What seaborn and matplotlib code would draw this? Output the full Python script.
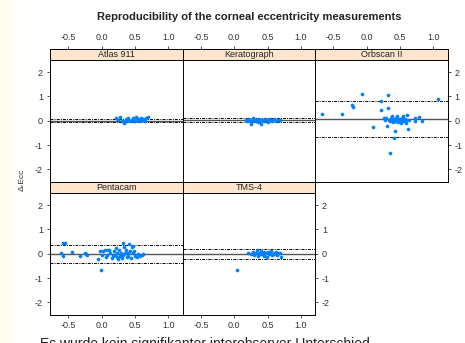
import numpy as np
import pandas as pd
import seaborn as sns
import matplotlib
matplotlib.use("Agg")
import matplotlib.pyplot as plt
from matplotlib.patches import Rectangle

sns.set_style("ticks")
plt.rcParams["font.family"] = ["Liberation Sans", "DejaVu Sans"]

# ---- data ----
devices = ["Atlas 911", "Keratograph", "Orbscan II", "Pentacam", "TMS-4"]

atlas_x = [0.22, 0.25, 0.27, 0.30, 0.32, 0.34, 0.36, 0.38, 0.40, 0.42, 0.45, 0.47,
           0.48, 0.50, 0.52, 0.54, 0.55, 0.57, 0.59, 0.60, 0.62, 0.65, 0.67, 0.70]
atlas_y = [0.11, 0.04, 0.15, 0.01, -0.03, -0.10, 0.07, 0.01, 0.11, -0.01, 0.04, 0.10,
           0.01, -0.03, 0.14, 0.04, 0.07, 0.01, 0.10, 0.04, 0.07, 0.01, 0.11, 0.15]

kerato_x = [0.17, 0.19, 0.21, 0.23, 0.25, 0.27, 0.28, 0.30, 0.32, 0.33, 0.35, 0.37, 0.39,
            0.40, 0.42, 0.44, 0.46, 0.48, 0.50, 0.52, 0.55, 0.57, 0.60, 0.62, 0.65, 0.68]
kerato_y = [0.03, -0.03, 0.06, 0.0, -0.12, 0.04, 0.12, -0.02, 0.06, 0.01, -0.05, 0.08, 0.02,
            -0.14, 0.05, -0.01, 0.07, 0.02, -0.04, 0.09, 0.03, 0.0, 0.06, -0.02, 0.05, 0.02]

orb_x = [-0.675, -0.375, -0.215, -0.205, -0.065, 0.10, 0.21, 0.21, 0.32, 0.32, 0.31, 0.26,
         0.275, 0.295, 0.335, 0.345, 0.36, 0.375, 0.385, 0.395, 0.41, 0.425, 0.425, 0.41,
         0.345, 0.435, 0.445, 0.46, 0.475, 0.485, 0.495, 0.51, 0.525, 0.535, 0.545, 0.56,
         0.575, 0.585, 0.595, 0.61, 0.615, 0.635, 0.725, 0.725, 0.785, 0.835, 1.075]
orb_y = [0.28, 0.28, 0.66, 0.56, 1.12, -0.26, 0.80, 0.45, 1.07, 0.52, -0.23, 0.11,
         0.04, 0.11, 0.04, -0.03, 0.11, 0.01, 0.18, -0.07, 0.07, -0.03, -0.41, -0.72,
         -1.34, 0.11, 0.01, 0.18, -0.07, 0.07, 0.0, -0.10, 0.11, 0.01, 0.18, -0.03,
         0.07, -0.10, 0.04, 0.25, -0.34, 0.04, 0.11, 0.0, 0.15, 0.0, 0.91]

penta_x = [-0.61, -0.575, -0.575, -0.55, -0.45, -0.325, -0.25, -0.235, -0.225, -0.05,
           -0.025, -0.01, 0.0, 0.025, 0.05, 0.065, 0.085, 0.10, 0.115, 0.125, 0.15, 0.165,
           0.185, 0.20, 0.215, 0.225, 0.235, 0.25, 0.265, 0.275, 0.285, 0.30, 0.315, 0.325,
           0.335, 0.35, 0.365, 0.375, 0.39, 0.40, 0.41, 0.425, 0.435, 0.45, 0.465, 0.475,
           0.49, 0.50, 0.525, 0.55, 0.575, 0.60, 0.625]
penta_y = [0.03, -0.08, 0.46, 0.44, 0.08, -0.08, 0.05, 0.0, -0.04, -0.22,
           0.10, -0.68, -0.04, 0.10, 0.16, -0.14, -0.04, 0.14, 0.16, 0.05, -0.18, -0.08,
           0.10, -0.04, 0.23, 0.05, -0.14, -0.22, 0.16, -0.08, 0.03, -0.18, 0.44, -0.04,
           0.27, 0.05, 0.16, -0.14, -0.08, 0.03, 0.41, 0.10, -0.18, 0.27, 0.03, 0.33,
           0.10, -0.08, -0.14, 0.0, -0.08, -0.04, 0.0]

tms_x = [0.04, 0.21, 0.25, 0.28, 0.30, 0.32, 0.34, 0.35, 0.37, 0.38, 0.40, 0.42, 0.44, 0.45,
         0.47, 0.49, 0.50, 0.52, 0.54, 0.55, 0.57, 0.59, 0.60, 0.62, 0.64, 0.66, 0.68, 0.70]
tms_y = [-0.65, 0.04, 0.0, 0.08, -0.06, 0.02, 0.16, -0.10, 0.05, -0.03, 0.10, 0.0, -0.08, 0.06,
         0.02, -0.12, 0.08, -0.02, 0.04, 0.12, -0.06, 0.03, 0.0, 0.09, -0.04, 0.05, 0.02, -0.15]

# mean difference and limits of agreement per device
mean_diff = [0.0, 0.03, 0.07, 0.0, 0.0]
upper_loa = [0.08, 0.12, 0.81, 0.35, 0.19]
lower_loa = [-0.04, -0.05, -0.67, -0.38, -0.20]

xs = [atlas_x, kerato_x, orb_x, penta_x, tms_x]
ys = [atlas_y, kerato_y, orb_y, penta_y, tms_y]
df = pd.concat(
    [pd.DataFrame({"device": d, "mean": x, "diff": y}) for d, x, y in zip(devices, xs, ys)],
    ignore_index=True,
)

# ---- layout (pixel geometry of the lattice) ----
W, H = 465, 343
fig = plt.figure(figsize=(W / 100, H / 100), dpi=100)
fig.patch.set_facecolor("white")
fig.patches.append(Rectangle((0, 0), 13 / W, 1, transform=fig.transFigure,
                             facecolor="#fffdf0", edgecolor="none", zorder=0))

col_left = [50, 182.5, 315]
col_w = 132.5
row_strip = [48.5, 181.5]
strip_h = 11.5
panel_h = 121.5
xlim = (-0.775, 1.21)
ylim = (-2.5, 2.5)
tick_col = "#333333"
blue = "#0080ff"


def px_axes(x, y, w, h):
    return fig.add_axes([x / W, 1 - (y + h) / H, w / W, h / H])


def style_ticks(ax):
    ax.tick_params(direction="out", length=2.5, width=0.6, color=tick_col,
                   labelcolor=tick_col, labelsize=6.5, pad=2.5)


for i, dev in enumerate(devices):
    r, c = divmod(i, 3)
    x0 = col_left[c]
    ys0 = row_strip[r]
    # strip
    sax = px_axes(x0, ys0, col_w, strip_h)
    sax.set_facecolor("#ffe5cc")
    sax.set_xlim(xlim)
    sax.set_ylim(0, 1)
    sax.set_yticks([])
    sax.text(0.5, 0.45, dev, transform=sax.transAxes, ha="center", va="center",
             fontsize=6.5, color="#222222")
    for sp in sax.spines.values():
        sp.set_linewidth(0.7)
        sp.set_color("black")
    style_ticks(sax)
    if r == 0:
        sax.xaxis.tick_top()
        sax.set_xticks([-0.5, 0.0, 0.5, 1.0])
        sax.set_xticklabels(["-0.5", "0.0", "0.5", "1.0"])
    else:
        sax.set_xticks([])

    # panel
    ax = px_axes(x0, ys0 + strip_h, col_w, panel_h)
    d = df[df["device"] == dev]
    ax.axhline(mean_diff[i], color="#555555", lw=1.0, zorder=1)
    ax.axhline(upper_loa[i], color="black", lw=0.7, ls=(0, (3, 1.2, 1, 1.2)), zorder=1)
    ax.axhline(lower_loa[i], color="black", lw=0.7, ls=(0, (3, 1.2, 1, 1.2)), zorder=1)
    sns.scatterplot(data=d, x="mean", y="diff", ax=ax, color=blue, s=5,
                    edgecolor=blue, linewidth=0.4, legend=False, zorder=3)
    ax.set_xlim(xlim)
    ax.set_ylim(ylim)
    ax.set_xlabel("")
    ax.set_ylabel("")
    for sp in ax.spines.values():
        sp.set_visible(True)
        sp.set_linewidth(0.7)
        sp.set_color("black")
    style_ticks(ax)

    if r == 1:
        ax.set_xticks([-0.5, 0.0, 0.5, 1.0])
        ax.set_xticklabels(["-0.5", "0.0", "0.5", "1.0"])
    else:
        ax.set_xticks([])

    yt = [-2, -1, 0, 1, 2]
    if c == 0:
        ax.set_yticks(yt)
        ax.set_yticklabels([str(v) for v in yt])
    elif dev in ("Orbscan II", "TMS-4"):
        ax.yaxis.tick_right()
        ax.set_yticks(yt)
        ax.set_yticklabels([str(v) for v in yt])
    else:
        ax.set_yticks([])

fig.text(249 / W, 1 - 17 / H, "Reproducibility of the corneal eccentricity measurements",
         ha="center", va="center", fontsize=8, fontweight="bold", color="#222222")
fig.text(22 / W, 1 - 180 / H, "\u0394-Ecc", rotation=90, ha="center", va="center",
         fontsize=6, color=tick_col)
fig.text(40 / W, 1 - 337 / H, "Es wurde kein signifikanter interobserver Unterschied",
         ha="left", va="top", fontsize=10, color="#222222")

fig.savefig("out.png", dpi=100)
